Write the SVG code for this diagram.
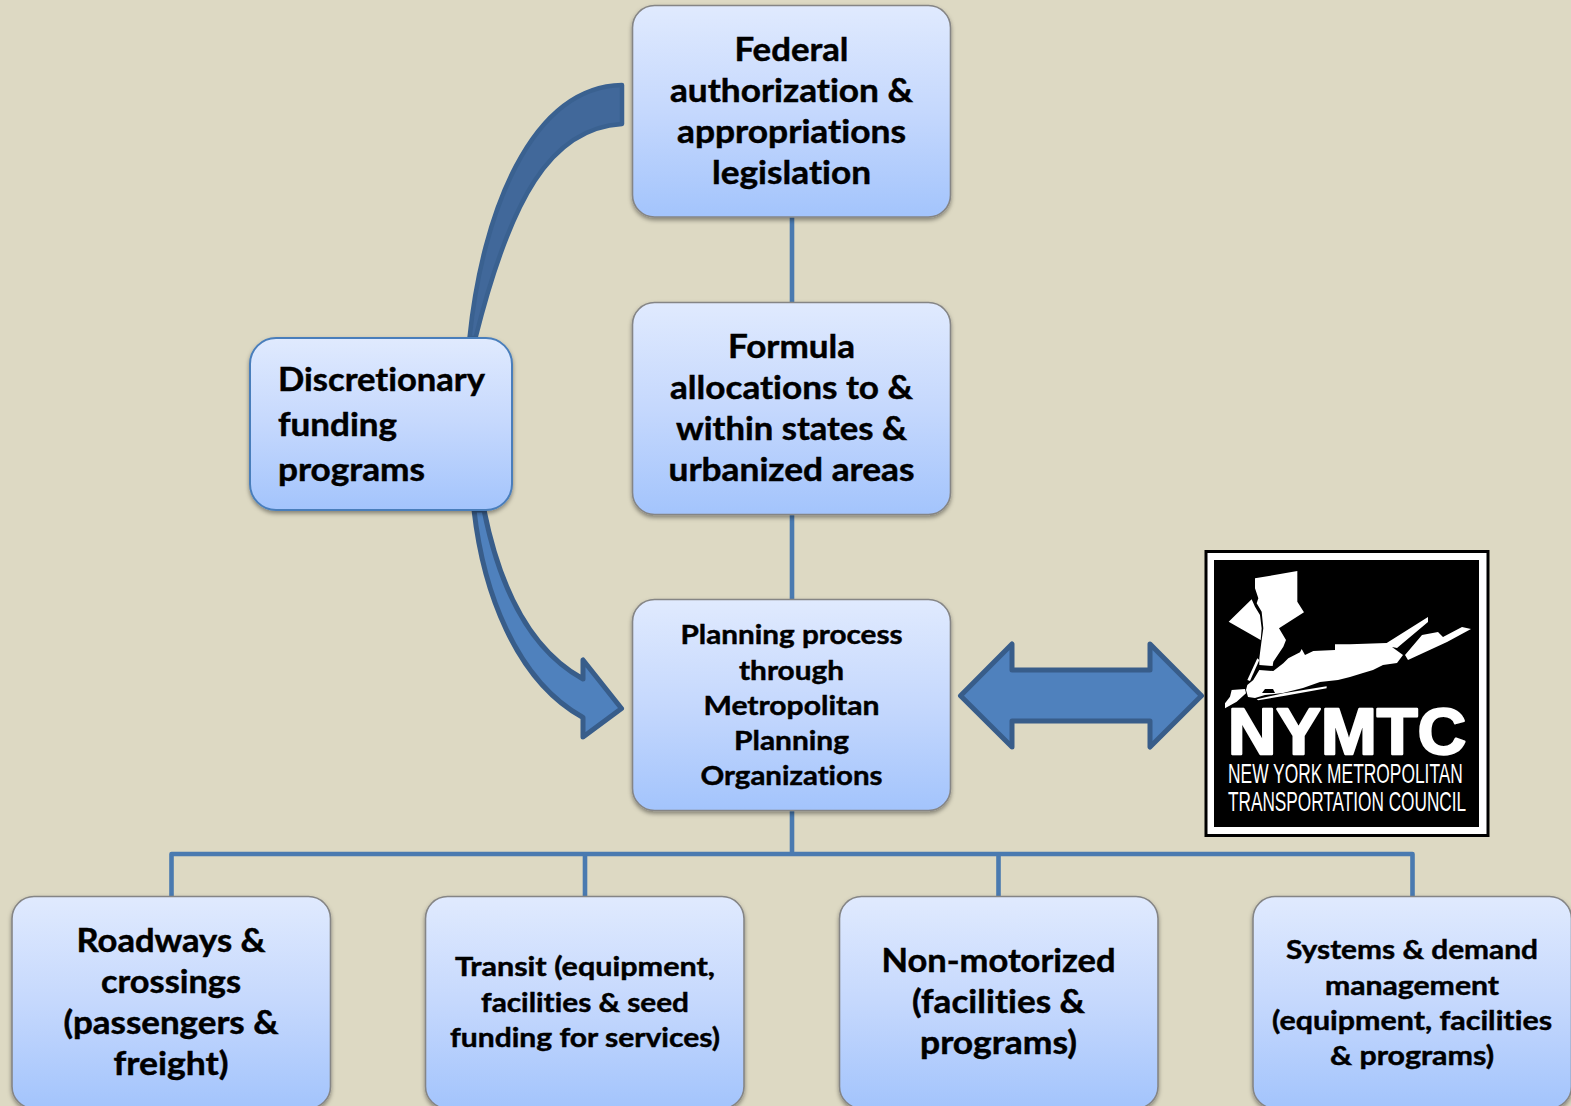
<svg xmlns="http://www.w3.org/2000/svg" width="1571" height="1106" viewBox="0 0 1571 1106">
<style>
.box{fill:url(#g);stroke:#858585;stroke-width:1.6;filter:url(#s)}
.blue{stroke:#4a7ebb;stroke-width:2}
.t{font-family:Lato,"Liberation Sans",sans-serif;font-weight:700;fill:#000;stroke:#000;stroke-width:.45;text-anchor:middle;font-size:31.5px;font-variant-ligatures:none}
.m{font-size:27px}
.l{text-anchor:start}
.c{fill:none;stroke:#4a7ab0;stroke-width:4.6;stroke-linejoin:round}
.a{fill:#4f81bd;stroke:#385d8a;stroke-width:5;stroke-linejoin:round}
.lg{fill:#fff;font-family:"Liberation Sans",sans-serif}
</style>
<defs>
<linearGradient id="g" x1="0" y1="0" x2="0" y2="1"><stop offset="0" stop-color="#e0eafe"/><stop offset="0.5" stop-color="#c5d8fd"/><stop offset="1" stop-color="#a3c4fc"/></linearGradient>
<filter id="s" x="-5%" y="-5%" width="110%" height="112%"><feDropShadow dx="0" dy="2.5" stdDeviation="2" flood-color="#000" flood-opacity=".4"/></filter>
</defs>
<rect width="1571" height="1106" fill="#ddd9c3"/>
<g id="connectors">
<path class="c" d="M792 217V302M792 515V600M792 810V854M171.500 897V854H1412.500V897M585 854V897M998.500 854V897"/>
<path id="arrow-federal-discretionary" d="M469.500 338C482 215 530 87 622 85V124C550 128 510 200 475.500 338Z" fill="#41689a" stroke="#3a6190" stroke-width="4.500" stroke-linejoin="round"/>
<path id="arrow-discretionary-planning" class="a" d="M474 510C483 590 515 680 583 717.500V737L621.500 708.500L583 660V679C530 650 500 590 484 510Z"/>
<path id="arrow-planning-nymtc" class="a" d="M960.500 695.700L1012 644V670H1150V644L1201.500 695.700L1150 747V721H1012V747Z"/>
</g>
<g id="federal"><rect class="box" x="632.500" y="5.500" width="318" height="211.500" rx="22"/>
<text class="t" x="791.500" y="61" textLength="114" lengthAdjust="spacingAndGlyphs">Federal</text>
<text class="t" x="791.500" y="102" textLength="243" lengthAdjust="spacingAndGlyphs">authorization &amp;</text>
<text class="t" x="791.500" y="143" textLength="229" lengthAdjust="spacingAndGlyphs">appropriations</text>
<text class="t" x="791.500" y="184" textLength="159" lengthAdjust="spacingAndGlyphs">legislation</text></g>
<g id="formula"><rect class="box" x="632.500" y="302.500" width="318" height="212" rx="22"/>
<text class="t" x="791.500" y="358" textLength="127" lengthAdjust="spacingAndGlyphs">Formula</text>
<text class="t" x="791.500" y="399" textLength="243" lengthAdjust="spacingAndGlyphs">allocations to &amp;</text>
<text class="t" x="791.500" y="440" textLength="231" lengthAdjust="spacingAndGlyphs">within states &amp;</text>
<text class="t" x="791.500" y="481" textLength="246" lengthAdjust="spacingAndGlyphs">urbanized areas</text></g>
<g id="planning"><rect class="box" x="632.500" y="599.500" width="318" height="211" rx="22"/>
<text class="t m" x="791.500" y="644" textLength="222" lengthAdjust="spacingAndGlyphs">Planning process</text>
<text class="t m" x="791.500" y="680" textLength="105" lengthAdjust="spacingAndGlyphs">through</text>
<text class="t m" x="791.500" y="715" textLength="176" lengthAdjust="spacingAndGlyphs">Metropolitan</text>
<text class="t m" x="791.500" y="750" textLength="115" lengthAdjust="spacingAndGlyphs">Planning</text>
<text class="t m" x="791.500" y="785" textLength="182" lengthAdjust="spacingAndGlyphs">Organizations</text></g>
<g id="discretionary"><rect class="box blue" x="250" y="338" width="262" height="172" rx="26"/>
<text class="t l" x="278" y="391" textLength="207" lengthAdjust="spacingAndGlyphs">Discretionary</text>
<text class="t l" x="278" y="436" textLength="119" lengthAdjust="spacingAndGlyphs">funding</text>
<text class="t l" x="278" y="481" textLength="147" lengthAdjust="spacingAndGlyphs">programs</text></g>
<g id="roadways"><rect class="box" x="12" y="896.500" width="318.500" height="212" rx="22"/>
<text class="t" x="171" y="952" textLength="189" lengthAdjust="spacingAndGlyphs">Roadways &amp;</text>
<text class="t" x="171" y="993" textLength="140" lengthAdjust="spacingAndGlyphs">crossings</text>
<text class="t" x="171" y="1034" textLength="215" lengthAdjust="spacingAndGlyphs">(passengers &amp;</text>
<text class="t" x="171" y="1075" textLength="115" lengthAdjust="spacingAndGlyphs">freight)</text></g>
<g id="transit"><rect class="box" x="425.500" y="896.500" width="318.500" height="212" rx="22"/>
<text class="t m" x="585" y="976" textLength="260" lengthAdjust="spacingAndGlyphs">Transit (equipment,</text>
<text class="t m" x="585" y="1012" textLength="208" lengthAdjust="spacingAndGlyphs">facilities &amp; seed</text>
<text class="t m" x="585" y="1047" textLength="270" lengthAdjust="spacingAndGlyphs">funding for services)</text></g>
<g id="nonmotorized"><rect class="box" x="839.500" y="896.500" width="318.500" height="212" rx="22"/>
<text class="t" x="998.500" y="972" textLength="234" lengthAdjust="spacingAndGlyphs">Non-motorized</text>
<text class="t" x="998.500" y="1013" textLength="173" lengthAdjust="spacingAndGlyphs">(facilities &amp;</text>
<text class="t" x="998.500" y="1054" textLength="157" lengthAdjust="spacingAndGlyphs">programs)</text></g>
<g id="systems"><rect class="box" x="1253" y="896.500" width="318.500" height="212" rx="22"/>
<text class="t m" x="1412" y="959" textLength="252" lengthAdjust="spacingAndGlyphs">Systems &amp; demand</text>
<text class="t m" x="1412" y="995" textLength="174" lengthAdjust="spacingAndGlyphs">management</text>
<text class="t m" x="1412" y="1030" textLength="280" lengthAdjust="spacingAndGlyphs">(equipment, facilities</text>
<text class="t m" x="1412" y="1065" textLength="164" lengthAdjust="spacingAndGlyphs">&amp; programs)</text></g>
<g id="nymtc-logo">
<rect x="1206" y="551.500" width="282" height="284" fill="#fff" stroke="#000" stroke-width="3"/>
<rect x="1214" y="560" width="265" height="267" fill="#000"/>
<g transform="translate(1220 565) scale(.3333)" fill="#fff">
<path d="M105 40L232 18L232 110L252 142L177 190L198 225L190 245L160 290L158 303L118 300L118 280L125 225L130 190L125 140L110 115L115 100L105 70Z"/>
<path d="M95 103L26 170L122 225L125 190L120 150L105 125Z"/>
<path d="M112 280L82 345L90 348L118 285Z"/>
<path d="M35 375L75 372L78 385L50 410L15 430L15 415L30 395Z"/>
<path d="M110 403L190 385L320 364L320 370L195 392L115 406Z"/>
</g>
<path fill="#fff" d="M1247.300 685L1253.300 680L1259.300 670L1273.300 671L1283.300 663.300L1288.300 658.300L1300 652.300L1301.700 649L1305 655L1313.300 651L1335 650L1335 644.300L1350 644.300L1386.700 643L1428 617L1428 622L1397 648L1392 647L1403 655L1397 663L1383 665L1373 670L1363 673L1350 677L1338 680L1320 682L1303 688L1283 693L1265 695L1255 698L1248 697L1246 690Z"/>
<path fill="#fff" d="M1405 655L1422 635L1438 632L1443 637L1462 627L1471 629L1447 642L1408 660Z"/>
<path fill="#000" d="M1262 693L1265 689L1273 689L1275 693Z"/>
<text class="lg" x="1228" y="754" font-size="64" font-weight="700" stroke="#fff" stroke-width="2.400" stroke-linejoin="round" textLength="238" lengthAdjust="spacingAndGlyphs">NYMTC</text>
<text class="lg" transform="translate(1228 783) scale(.64 1)" font-size="27" textLength="367" lengthAdjust="spacingAndGlyphs">NEW YORK METROPOLITAN</text>
<text class="lg" transform="translate(1228 811) scale(.63 1)" font-size="27" textLength="378" lengthAdjust="spacingAndGlyphs">TRANSPORTATION COUNCIL</text>
</g>
</svg>
